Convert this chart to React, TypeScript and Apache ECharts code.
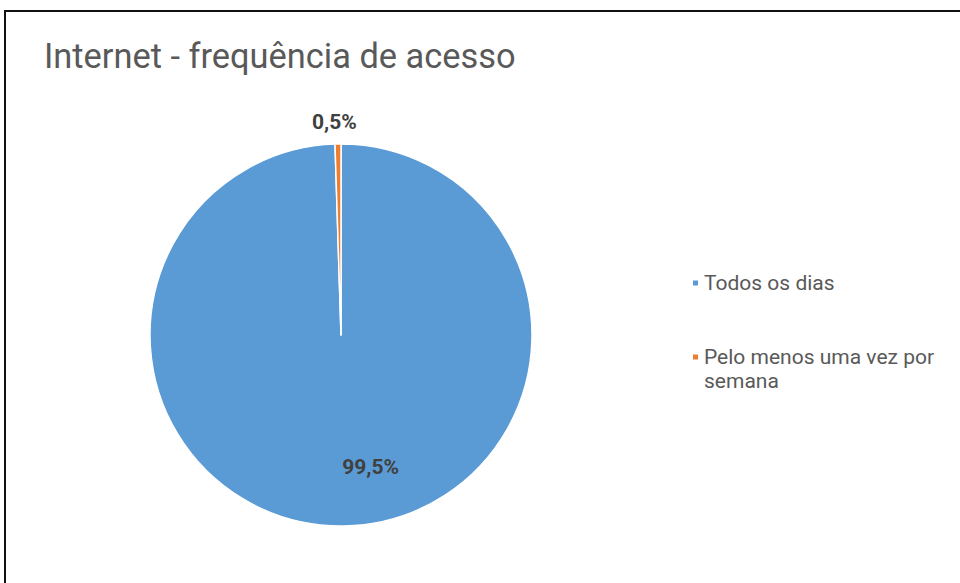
import React, { useEffect, useRef } from "react";
import * as echarts from "echarts";

const titleText = "Internet - frequência de acesso";
const categories = ["Todos os dias", "Pelo menos uma vez por semana"];
const legendLabels = ["Todos os dias", "\nPelo menos uma vez por\nsemana"];
const values = [99.5, 0.5];
const colors = ["#5B9BD5", "#ED7D31"];

const fmt = (v: number) => v.toFixed(1).replace(".", ",") + "%";

export default function App() {
  const ref = useRef<HTMLDivElement>(null);
  useEffect(() => {
    if (!ref.current) return;
    const chart = echarts.init(ref.current, null, { renderer: "svg" });
    const labelStyle = {
      fontFamily: "Roboto",
      fontSize: 21,
      fontWeight: "bold" as const,
      color: "#404040",
      formatter: (p: any) => fmt(p.value),
    };
    chart.setOption({
      animation: false,
      backgroundColor: "#ffffff",
      title: {
        text: titleText,
        left: 39,
        top: 34,
        textStyle: {
          fontFamily: "Roboto",
          fontSize: 34.4,
          fontWeight: "normal",
          color: "#595959",
        },
      },
      legend: {
        orient: "vertical",
        left: 686,
        top: 266,
        itemWidth: 7,
        itemHeight: 7,
        itemGap: 26,
        icon: "rect",
        textStyle: {
          fontFamily: "Roboto",
          fontSize: 21,
          color: "#595959",
          lineHeight: 24,
        },
        formatter: (name: string) => legendLabels[categories.indexOf(name)],
        data: categories,
      },
      graphic: [
        {
          type: "line",
          shape: { x1: 4, y1: 11, x2: 960, y2: 11 },
          style: { stroke: "#111111", lineWidth: 2 },
        },
        {
          type: "line",
          shape: { x1: 5, y1: 10, x2: 5, y2: 583 },
          style: { stroke: "#111111", lineWidth: 2 },
        },
      ],
      series: [
        {
          type: "pie",
          center: [341, 335],
          radius: 191,
          startAngle: 90,
          clockwise: true,
          itemStyle: { borderColor: "#ffffff", borderWidth: 1.5 },
          labelLine: { show: false },
          data: categories.map((c, i) => ({
            name: c,
            value: values[i],
            itemStyle: { color: colors[i] },
            label:
              i === 0
                ? { ...labelStyle, position: "inside" }
                : { ...labelStyle, position: "outside" },
          })),
          labelLayout: (p: any) =>
            p.dataIndex === 0 ? { dx: 28, dy: 34 } : { dx: 54, dy: -7 },
        },
      ],
    });
    return () => chart.dispose();
  }, []);
  return (
    <div
      ref={ref}
      style={{ position: "absolute", left: 0, top: 0, width: 960, height: 583 }}
    />
  );
}
